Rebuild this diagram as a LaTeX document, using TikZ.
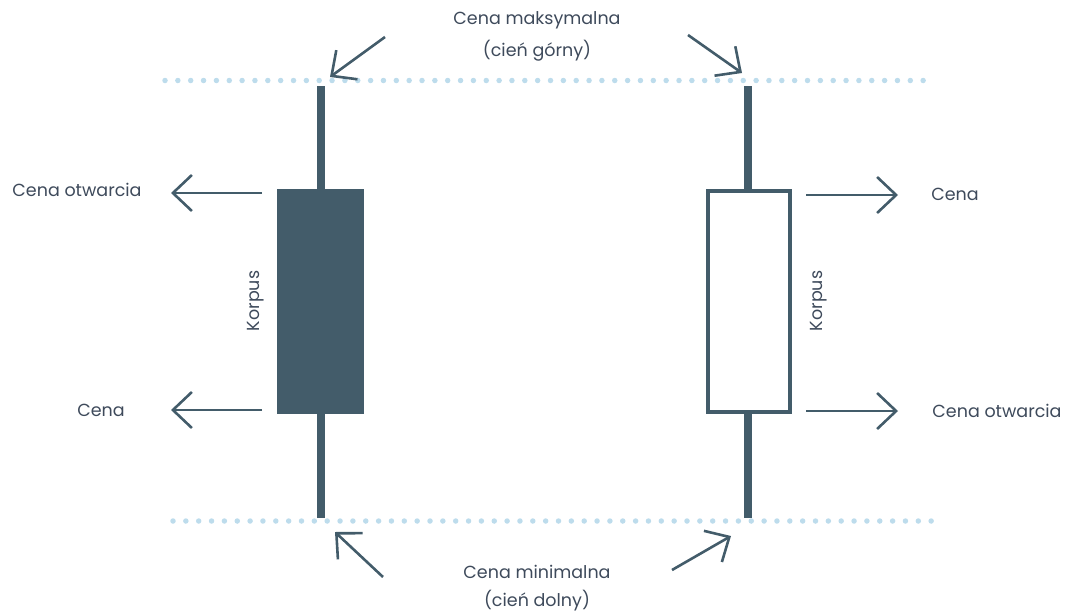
\documentclass[tikz,border=0pt]{standalone}
\usepackage{fontspec}
\setmainfont{Poppins}
\usetikzlibrary{arrows.meta}
\definecolor{slate}{HTML}{435C6A}
\definecolor{dotblue}{HTML}{BDDCEC}
\definecolor{ink}{HTML}{3E4A5B}
\tikzset{
  label/.style={text=ink, font=\fontsize{17.5}{22}\selectfont, inner sep=0pt},
  pointer/.style={draw=slate, line width=2.6pt, -{Straight Barb[length=19pt,width=36pt,line width=2.6pt]}},
  wick/.style={draw=slate, line width=8pt},
  dotline/.style={draw=dotblue, line width=5.5pt, line cap=round, dash pattern=on 0pt off 12.85pt},
  bodyfill/.style={fill=slate, draw=none},
  bodyopen/.style={draw=slate, line width=4pt, fill=white},
}
\begin{document}
\begin{tikzpicture}[x=1pt,y=-1pt]
\useasboundingbox (0,0) rectangle (1066,613);

% guide lines for highs and lows
\coordinate (hiL) at (165,80.5);
\coordinate (hiR) at (925,80.5);
\coordinate (loL) at (173,521);
\coordinate (loR) at (932,521);
\draw[dotline] (hiL) -- (hiR);
\draw[dotline] (loL) -- (loR);

% bearish candle
\coordinate (w1t) at (321,86);
\coordinate (w1b) at (321,518);
\draw[wick] (w1t) -- (w1b);
\path[bodyfill] (277,189) rectangle (364,414);
\node[label, rotate=90] (k1) at (256,301) {Korpus};

% bullish candle
\coordinate (w2t) at (748,86);
\coordinate (w2b) at (748,518);
\draw[wick] (w2t) -- (w2b);
\path[bodyopen] (708,191) rectangle (790,412);
\node[label, rotate=90] (k2) at (819,301) {Korpus};

% side labels
\node[label] (o1) at (77,190) {Cena otwarcia};
\node[label] (c1) at (101,410) {Cena};
\node[label] (c2) at (955,194) {Cena};
\node[label] (o2) at (997,411) {Cena otwarcia};

\coordinate (a1s) at (262,193);
\coordinate (a1e) at (171,193);
\coordinate (a2s) at (262,410);
\coordinate (a2e) at (171,410);
\coordinate (a3s) at (806,195);
\coordinate (a3e) at (898,195);
\coordinate (a4s) at (806,411);
\coordinate (a4e) at (898,411);
\draw[pointer] (a1s) -- (a1e);
\draw[pointer] (a2s) -- (a2e);
\draw[pointer] (a3s) -- (a3e);
\draw[pointer] (a4s) -- (a4e);

% high / low captions
\node[label] (hi1) at (537,20) {Cena maksymalna};
\node[label] (hi2) at (537,51) {(cień górny)};
\node[label] (lo1) at (537,572) {Cena minimalna};
\node[label] (lo2) at (537,601) {(cień dolny)};

\coordinate (t1s) at (385,37);
\coordinate (t1e) at (330,77);
\coordinate (t2s) at (688,35);
\coordinate (t2e) at (742,73);
\coordinate (b1s) at (383,577);
\coordinate (b1e) at (335,532);
\coordinate (b2s) at (672,570);
\coordinate (b2e) at (731,536);
\draw[pointer] (t1s) -- (t1e);
\draw[pointer] (t2s) -- (t2e);
\draw[pointer] (b1s) -- (b1e);
\draw[pointer] (b2s) -- (b2e);
\end{tikzpicture}
\end{document}
